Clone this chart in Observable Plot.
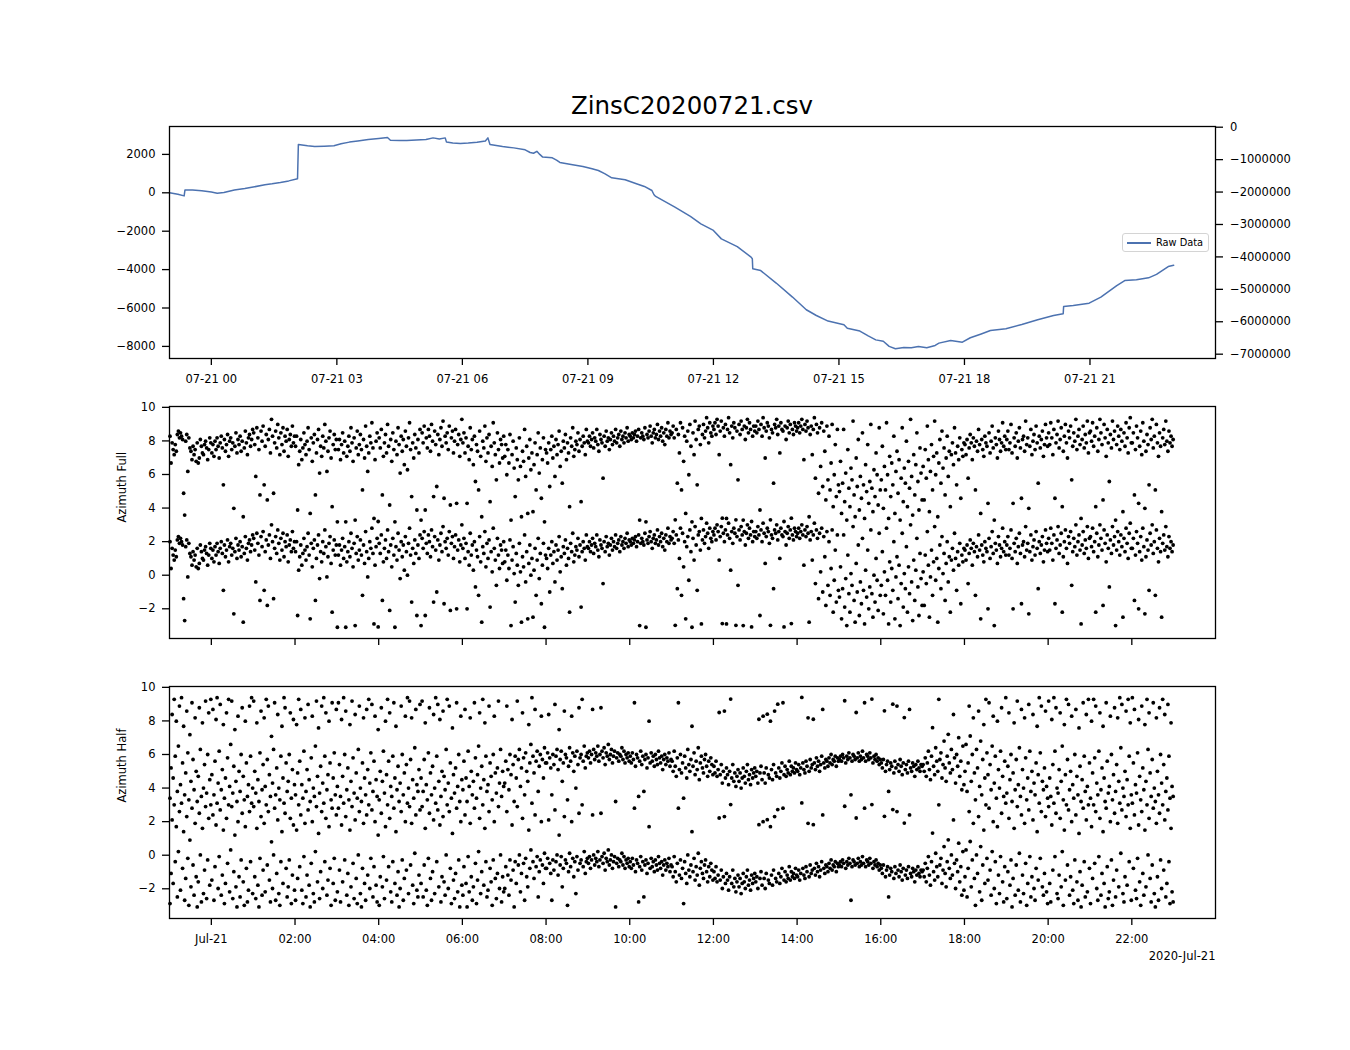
<!DOCTYPE html>
<html>
<head>
<meta charset="utf-8">
<script src="https://cdn.jsdelivr.net/npm/d3@7"></script>
<script src="https://cdn.jsdelivr.net/npm/@observablehq/plot@0.6"></script>
<style>
  body { margin: 0; background: #fff; }
  #fig { position: relative; width: 1350px; height: 1050px; background: #fff; font-family: "DejaVu Sans", sans-serif; color: #000; }
  .panel { position: absolute; left: 0; }
  #title { position: absolute; left: 169px; width: 1046px; top: 94px; text-align: center; font-size: 24.5px; line-height: 1; }
  #legend { position: absolute; left: 1122px; top: 233px; width: 87px; height: 19px; box-sizing: border-box;
            border: 1px solid #d4d4d4; border-radius: 3px; background: rgba(255,255,255,0.85); }
  #legend .sw { position: absolute; left: 4px; top: 8px; width: 24px; height: 1.6px; background: #4c72b0; }
  #legend .lb { position: absolute; left: 33px; top: 2px; font-size: 9.8px; line-height: 13px; white-space: nowrap; }
</style>
</head>
<body>
<div id="fig">
  <div id="title">ZinsC20200721.csv</div>
  <div id="p1" class="panel" style="top:116px"></div>
  <div id="p2" class="panel" style="top:396px"></div>
  <div id="p3" class="panel" style="top:676px"></div>
  <div id="legend"><div class="sw"></div><div class="lb">Raw Data</div></div>
</div>
<script>
// ---------------- DATA ----------------
// Raw data line: hours relative to 2020-07-21 00:00, and values (left axis)
const rawHours = [-1.0,-0.8,-0.65,-0.63,-0.45,-0.23,0.0,0.14,0.3,0.55,0.8,1.0,1.28,1.45,1.65,1.85,2.06,2.08,2.3,2.47,2.7,2.93,3.1,3.3,3.5,3.75,4.0,4.21,4.28,4.5,4.67,4.9,5.13,5.3,5.45,5.59,5.62,5.77,5.95,6.14,6.35,6.55,6.61,6.66,6.96,7.23,7.5,7.62,7.7,7.78,7.85,7.92,8.15,8.25,8.33,8.6,8.88,9.1,9.25,9.4,9.57,9.89,10.16,10.35,10.53,10.58,10.62,11.08,11.45,11.7,12.0,12.19,12.57,12.9,12.93,12.94,13.13,13.5,13.89,14.22,14.46,14.74,15.12,15.2,15.5,15.7,15.88,16.06,16.2,16.35,16.55,16.73,16.9,17.1,17.3,17.39,17.67,17.95,18.14,18.4,18.62,18.99,19.37,19.75,20.13,20.36,20.37,20.6,20.98,21.26,21.64,21.83,22.11,22.4,22.59,22.87,23.0];
const rawValues = [0,-80,-160,150,140,110,40,-20,20,150,220,300,420,470,540,620,730,2520,2450,2410,2430,2450,2550,2640,2700,2780,2830,2880,2740,2730,2725,2750,2780,2860,2800,2860,2640,2590,2570,2590,2630,2700,2860,2520,2410,2340,2240,2100,2060,2160,2000,1860,1820,1700,1580,1475,1370,1250,1160,1000,780,680,470,330,120,-100,-190,-750,-1230,-1615,-1960,-2400,-2800,-3350,-3430,-3960,-4050,-4700,-5430,-6090,-6390,-6680,-6870,-7050,-7200,-7450,-7660,-7730,-8000,-8120,-8060,-8070,-8000,-8070,-7950,-7830,-7690,-7780,-7550,-7350,-7170,-7080,-6860,-6610,-6390,-6300,-5920,-5870,-5750,-5430,-4830,-4570,-4530,-4430,-4250,-3840,-3770];

// Azimuth samples (radians, unwrapped reading), one row per hour from 23:00 (Jul 20) to 23:00 (Jul 21), 40 samples per hour
const azimuthFullByHour = [
[2.0,0.4,1.6,1.2,0.9,1.5,1.1,2.1,2.3,1.9,2.2,2.0,1.8,-1.4,-2.7,1.7,2.1,-0.1,1.9,1.3,1.1,0.6,1.4,0.9,1.2,0.5,1.6,0.4,0.7,1.8,1.4,1.0,0.9,1.5,1.7,1.3,0.6,1.2,1.9,1.6],
[1.0,1.5,0.8,1.7,1.2,1.9,1.4,0.7,1.6,2.0,1.3,-0.9,1.8,1.1,1.5,2.1,0.8,1.7,1.9,1.2,1.6,-2.3,1.4,2.2,1.0,1.8,1.5,2.0,1.1,1.7,-2.8,1.3,2.3,1.6,0.9,1.9,2.1,1.4,1.8,2.4],
[2.2,1.5,-0.4,2.5,1.9,1.2,-1.5,2.3,1.7,2.6,-0.9,1.4,2.1,-1.8,1.8,2.4,1.0,3.0,2.0,-1.4,1.6,2.3,1.3,2.7,1.9,0.9,2.2,1.5,2.5,1.1,2.0,1.7,2.4,0.8,1.8,2.1,1.4,2.6,1.6,2.0],
[1.4,2.0,-2.4,0.3,1.1,1.8,0.6,1.3,2.2,1.5,0.9,1.7,2.5,1.2,-2.6,1.9,0.5,1.6,2.1,-1.5,1.0,1.8,2.4,-0.2,1.4,0.8,2.0,1.3,2.7,1.7,-0.1,1.1,1.9,2.3,0.7,-2.2,1.5,2.1,1.2,1.8],
[-3.1,1.2,1.8,0.6,1.5,2.2,1.0,1.7,-3.1,0.8,1.4,2.0,1.1,2.5,1.6,0.5,1.9,-3.0,1.3,2.3,0.9,1.5,2.1,1.2,-1.2,1.8,0.7,2.6,1.4,-0.1,1.0,2.0,1.6,2.8,1.3,-2.9,0.6,1.7,2.2,3.2],
[1.9,1.3,2.4,-1.5,0.8,1.6,2.1,1.0,2.7,1.4,-2.1,1.8,0.5,2.2,1.2,-3.1,1.7,0.9,2.5,1.5,-0.2,2.0,1.1,1.8,0.3,2.3,1.4,0.0,1.9,2.8,1.2,-1.6,1.6,0.7,2.1,1.3,-2.4,1.8,1.0,2.4],
[-3.0,2.2,1.6,2.6,-2.4,1.9,1.3,2.4,2.0,1.1,2.7,1.7,-1.6,2.3,1.5,-1.0,2.1,0.9,1.8,2.5,1.4,2.9,-1.7,2.0,1.6,2.2,1.2,2.6,-2.1,1.9,2.3,1.0,1.7,2.4,-2.0,1.5,2.1,0.8,1.8,3.0],
[1.6,2.2,1.0,1.9,-2.0,1.4,0.6,2.5,1.2,1.8,0.3,2.0,-0.7,1.5,1.1,-1.2,2.3,0.8,-2.8,1.7,1.3,2.6,0.5,1.9,1.0,2.1,-1.9,1.4,0.2,2.8,1.6,0.9,-0.6,2.2,1.2,0.4,1.8,1.5,0.7,2.0],
[0.8,1.5,-0.3,1.2,0.4,2.1,-3.0,0.9,1.7,0.1,-1.6,1.3,0.6,-0.6,1.9,0.2,-2.8,1.1,0.5,2.4,-0.4,1.4,-2.6,0.7,1.8,0.0,1.0,-2.5,0.3,1.6,-1.2,0.9,2.2,-0.2,1.3,-1.7,0.6,1.9,-3.1,1.2],
[1.0,0.4,1.6,-1.0,1.2,2.0,0.7,1.4,-0.4,1.8,0.9,1.5,2.3,0.2,1.1,-0.8,1.7,1.3,2.1,0.6,1.6,1.0,-2.2,1.9,1.4,2.5,0.8,1.2,1.7,1.5,2.2,1.1,1.8,-1.9,1.4,2.0,1.6,0.9,2.4,1.7],
[1.6,2.0,1.4,1.8,2.2,1.3,1.9,1.7,2.4,1.5,1.1,2.1,1.8,1.6,-0.5,2.0,1.4,2.3,1.7,1.9,1.2,1.8,2.2,1.5,2.0,1.7,2.4,1.6,1.9,2.1,1.4,2.3,1.8,2.0,1.6,2.2,1.9,2.5,1.7,2.1],
[2.0,1.8,2.2,1.9,2.1,2.3,1.7,2.0,2.4,-3.0,1.9,2.2,2.0,1.8,2.5,-3.1,2.1,1.9,2.3,2.6,2.0,1.6,2.2,2.4,1.9,2.1,2.7,1.8,2.3,2.0,2.5,1.7,2.2,1.5,2.4,2.0,2.8,1.9,2.3,2.1],
[2.2,2.6,1.9,3.3,2.4,-0.8,2.1,1.0,2.8,-1.2,2.5,0.5,2.0,-2.6,1.7,2.3,-0.3,2.7,1.4,-3.1,2.2,0.9,2.9,1.8,-0.9,2.4,2.6,1.5,-2.9,2.1,2.7,1.9,2.3,3.1,2.5,1.6,2.8,2.2,2.0,2.6],
[2.4,2.8,2.1,3.0,2.6,0.9,2.3,2.9,3.4,2.5,2.0,2.7,-2.9,2.4,3.1,2.2,0.3,2.6,1.9,2.8,2.5,3.3,2.3,-0.6,2.7,2.1,2.9,2.4,-3.0,2.6,1.8,2.5,3.0,2.2,2.8,2.4,3.2,2.0,2.6,2.3],
[2.6,2.2,2.9,2.4,-2.4,2.7,2.0,3.1,2.5,0.7,2.3,2.8,2.6,1.9,3.3,2.4,2.2,-0.8,2.7,2.5,3.0,2.1,2.6,1.0,2.8,2.4,2.3,3.2,2.6,1.8,2.5,2.9,2.2,2.7,3.4,2.4,2.1,2.8,2.6,2.3],
[2.5,2.8,2.2,2.6,3.0,2.4,0.6,2.7,2.3,2.9,2.5,-2.8,2.1,2.6,0.9,2.4,3.1,-0.5,2.7,2.2,-1.4,2.5,0.2,2.8,-1.0,2.3,1.1,-1.8,2.6,-0.6,2.0,-1.2,0.4,2.7,-2.2,-0.3,1.5,-1.6,2.4,-0.9],
[-1.3,0.5,-2.6,-0.8,2.4,-1.9,-0.2,-3.0,1.2,-1.1,-2.2,0.1,-0.6,2.9,-1.5,-2.8,0.7,-1.0,1.8,-2.4,-0.4,-1.7,2.2,-0.9,-2.9,0.3,-1.3,1.5,-2.0,-0.7,2.7,-1.1,-2.5,0.0,-1.6,1.0,-0.3,-2.1,2.5,-1.2],
[-0.6,1.4,-2.3,0.2,-1.2,2.8,-0.3,-2.9,0.8,-1.6,0.4,-0.9,2.0,-2.6,-0.1,1.1,-1.4,0.6,-3.0,-0.5,2.5,-1.9,0.1,-0.8,1.7,-2.2,0.5,-1.1,3.0,-0.4,-2.7,0.9,-1.5,0.3,2.2,-0.7,-2.4,1.3,-0.2,-1.8],
[0.2,-1.8,1.2,-0.5,2.6,0.6,-2.5,-0.1,1.5,-1.2,0.8,2.9,-0.3,1.0,-2.8,0.4,1.8,-0.8,2.3,0.1,1.3,-1.5,0.7,2.0,-0.4,1.1,-2.2,0.9,1.6,0.3,2.5,1.0,-0.9,1.4,0.6,1.9,-1.7,1.2,0.8,1.6],
[1.5,0.9,1.8,-0.5,1.3,2.1,1.6,0.6,1.9,1.4,-1.2,1.7,1.1,2.4,1.5,-2.6,1.8,1.2,0.8,2.0,1.6,1.4,-2.0,2.2,1.0,1.7,2.6,1.3,-3.0,1.9,1.5,0.7,2.3,1.8,1.1,1.6,2.8,1.4,2.0,1.2],
[1.8,2.3,1.2,1.6,2.7,1.0,-2.0,1.9,1.4,2.2,0.7,1.7,2.5,1.3,-1.7,1.8,2.0,1.1,2.9,1.5,1.9,-2.3,1.4,2.4,0.9,1.7,2.1,1.2,2.6,1.6,-0.8,2.0,1.3,1.8,2.3,0.8,1.5,2.7,1.9,1.4],
[2.2,1.5,2.8,1.9,0.9,2.4,-1.7,1.6,2.1,2.9,1.3,1.8,2.5,-2.2,1.1,2.0,2.7,1.6,0.7,2.3,1.9,2.6,-0.6,1.4,2.2,1.7,3.0,1.2,2.0,2.4,1.5,-2.9,1.8,2.6,1.3,2.1,1.6,2.9,1.0,2.2],
[2.3,1.7,2.8,1.4,2.0,-2.2,2.5,1.1,1.8,3.0,2.2,1.5,-1.8,2.7,1.9,0.8,2.4,1.6,-0.7,2.1,1.3,2.9,1.8,2.3,-3.0,1.5,2.6,2.0,1.2,2.4,1.7,-2.5,2.2,1.4,2.8,1.9,1.0,2.5,3.1,1.6],
[1.6,2.2,-1.5,1.2,2.6,1.9,-2.0,1.4,2.3,0.9,2.8,1.7,-2.3,1.1,2.1,1.5,-0.9,2.5,1.8,3.0,1.3,2.0,-1.2,2.7,1.6,0.8,2.2,1.4,-2.5,1.9,2.4,1.5,2.9,1.7,1.1,2.3,1.6,2.0,1.4,1.8]
];
const azimuthHalfByHour = [
[3.4,5.2,2.1,4.6,3.0,5.9,1.7,3.8,6.5,2.6,4.2,3.1,5.5,1.4,3.6,4.9,2.3,6.1,3.3,0.9,4.4,2.8,5.7,3.9,1.9,5.0,3.2,4.7,2.5,6.3,3.5,1.6,4.0,5.4,2.9,3.7,6.0,2.2,4.5,3.0],
[4.8,2.4,3.6,5.6,1.8,3.1,4.3,6.2,2.7,3.9,5.1,1.5,3.4,4.6,2.2,5.8,3.0,4.1,6.6,2.9,3.7,5.3,1.2,4.4,3.2,2.0,5.0,3.8,6.0,2.5,4.7,3.3,1.7,5.5,3.5,4.2,2.6,5.9,3.1,4.0],
[2.9,5.0,3.7,1.6,4.5,3.2,6.1,2.3,3.9,5.4,1.9,4.1,3.0,5.7,2.6,4.8,3.5,0.8,4.3,6.3,2.8,3.6,5.2,2.1,4.0,3.3,5.9,1.4,4.6,3.1,2.5,5.5,3.8,4.4,6.0,2.2,3.4,5.1,1.8,4.2],
[3.6,1.5,4.9,3.0,5.6,2.4,4.2,3.4,6.2,1.9,3.8,5.1,2.7,4.5,3.2,5.8,2.0,4.0,3.5,6.5,2.9,4.7,1.3,3.7,5.3,2.6,4.3,3.1,5.9,2.2,3.9,4.8,1.7,5.5,3.3,2.8,4.6,6.1,3.6,2.4],
[4.1,2.8,5.4,3.5,1.8,4.7,3.1,6.0,2.3,3.9,5.2,3.3,1.5,4.4,2.9,5.8,3.7,2.1,4.9,3.4,6.3,2.6,4.0,3.2,5.5,1.9,4.6,3.6,2.4,5.1,3.0,4.3,6.1,2.7,3.8,5.6,2.0,4.5,3.5,1.2],
[3.3,5.0,2.5,4.4,6.2,3.7,1.7,4.8,3.0,5.6,2.2,4.1,3.5,5.9,2.8,4.6,1.4,3.9,5.3,3.2,4.3,2.6,6.0,3.6,4.9,2.0,5.4,3.1,4.0,2.9,5.7,1.9,4.5,3.4,6.4,2.4,4.2,3.8,5.1,2.7],
[4.6,2.9,3.8,5.7,1.6,4.2,3.3,6.1,2.5,4.9,3.6,5.3,2.1,4.0,3.1,5.9,2.7,4.4,1.8,3.5,5.0,2.3,4.7,3.9,6.3,3.0,4.3,2.6,5.5,3.4,1.3,4.8,3.7,5.2,2.8,4.1,6.0,3.2,2.0,4.5],
[3.9,5.6,2.4,4.6,3.2,6.2,4.1,1.9,5.0,3.6,4.4,2.8,5.8,3.4,4.8,6.5,2.2,4.0,5.3,3.0,4.5,1.6,5.9,3.8,4.2,2.6,5.5,4.7,3.3,6.0,2.0,4.9,3.7,5.2,2.9,4.3,6.3,3.5,5.0,4.1],
[4.3,5.6,2.6,5.1,3.9,6.0,4.8,1.8,5.4,3.2,5.9,4.6,2.9,5.7,6.3,4.1,5.2,2.2,5.8,3.6,6.1,5.0,4.4,1.5,5.5,6.6,3.1,5.9,4.9,2.4,5.6,6.2,3.8,5.3,6.0,2.0,5.7,4.6,6.4,5.5],
[5.5,6.1,2.1,5.8,5.2,3.6,6.0,5.4,2.7,5.9,6.3,5.1,1.2,5.7,6.2,4.4,5.5,2.3,6.0,5.8,3.3,5.3,6.4,5.6,2.0,6.1,5.0,5.9,4.0,6.2,5.4,2.5,5.8,6.0,3.0,5.6,6.5,5.2,5.9,6.1],
[5.8,6.2,5.5,6.0,2.4,6.3,5.7,6.1,5.9,6.5,5.6,6.0,2.5,6.2,5.8,6.4,5.4,6.1,5.9,6.6,5.7,6.0,6.3,5.5,5.9,6.2,3.2,5.8,6.1,5.6,6.0,5.9,6.4,5.7,6.2,5.5,6.0,5.8,6.1,5.6],
[5.9,5.5,6.1,5.7,2.8,5.3,6.0,5.8,3.5,5.6,6.2,5.4,5.9,3.8,5.7,6.0,5.2,5.8,1.7,5.5,6.1,5.6,5.9,5.3,6.0,5.7,5.4,6.2,5.8,5.5,5.9,5.1,5.7,6.0,5.4,5.8,5.6,6.1,5.3,5.7],
[5.6,5.0,6.2,5.3,4.7,5.8,2.8,5.1,6.0,4.9,5.5,3.4,5.9,5.2,4.6,6.3,5.4,5.0,5.7,1.4,5.3,6.1,4.8,5.6,5.1,6.4,4.5,5.5,5.9,5.2,4.9,5.7,6.0,5.3,4.7,5.6,5.0,5.8,5.4,4.8],
[5.3,4.9,5.6,4.7,5.1,8.5,4.8,5.4,4.3,5.0,2.3,4.6,5.2,4.8,4.2,5.0,9.3,4.6,5.4,4.4,4.9,4.1,4.7,5.1,4.4,4.9,4.0,4.6,5.2,4.7,4.3,5.0,5.4,4.5,4.8,4.2,5.1,4.6,4.9,5.2],
[4.7,5.0,4.3,8.1,4.9,5.3,4.5,2.0,4.9,4.3,5.2,8.4,4.8,4.6,1.7,5.1,4.5,5.4,2.3,4.9,4.7,9.0,5.2,4.6,5.0,5.5,2.8,4.8,5.3,4.7,5.1,4.9,5.6,4.8,5.3,5.0,5.2,4.9,5.5,5.1],
[5.0,5.4,4.8,5.2,9.4,5.5,5.1,4.9,5.6,5.3,1.9,5.0,5.7,5.2,5.4,8.1,5.5,5.1,5.8,5.3,5.6,5.0,5.4,5.9,2.4,5.5,5.2,5.7,5.6,5.3,5.8,5.5,6.0,5.4,5.7,5.6,5.9,5.3,5.8,5.6],
[5.7,5.9,5.6,6.0,5.8,9.2,5.5,5.9,5.7,6.1,5.8,3.6,5.6,6.0,5.9,5.7,8.5,5.8,6.1,5.6,5.9,5.7,6.2,5.8,2.8,5.6,6.0,5.9,5.7,6.1,5.8,9.3,5.5,5.9,5.7,6.0,5.6,5.8,5.4,5.7],
[5.5,5.2,5.7,8.6,5.0,5.4,5.6,3.8,5.1,5.5,5.3,9.0,4.9,5.6,5.2,2.6,5.4,5.0,5.7,5.3,4.8,5.5,8.2,5.1,5.4,4.9,5.6,2.4,5.2,5.0,5.5,5.3,4.7,5.4,5.1,5.6,5.2,5.0,5.4,5.3],
[5.4,5.0,5.8,4.7,5.5,6.2,5.1,4.5,5.9,7.6,5.3,4.8,6.4,5.6,5.0,3.0,5.7,6.1,4.6,5.4,6.8,5.2,4.4,5.9,7.2,5.5,4.9,6.3,5.1,2.1,5.8,4.3,6.0,5.3,7.0,4.7,5.6,3.9,6.5,4.2],
[5.0,6.6,3.8,5.5,2.6,7.1,4.4,6.0,1.9,4.9,3.3,6.3,5.2,2.3,4.1,6.8,3.6,5.7,1.5,4.6,3.0,6.1,4.8,2.8,5.4,3.9,6.5,2.0,4.3,5.9,3.4,1.7,5.1,4.0,6.2,2.5,4.7,3.5,5.6,3.1],
[3.7,5.3,2.2,4.5,6.0,3.2,4.9,1.6,3.9,5.7,2.9,4.2,6.4,3.5,2.4,5.1,4.0,1.9,5.8,3.3,4.6,2.7,6.2,3.8,5.0,2.1,4.3,3.6,5.5,1.4,4.8,3.1,6.1,2.6,4.4,3.9,5.2,2.3,4.1,3.4],
[2.9,4.6,3.5,1.8,5.4,3.1,6.2,2.5,4.0,3.7,5.1,2.2,4.4,6.5,3.3,1.5,4.8,3.0,5.7,2.7,3.9,5.0,2.0,4.2,3.4,6.0,2.4,4.7,3.6,1.3,5.3,3.2,4.5,2.8,5.9,3.8,2.1,4.1,3.0,5.5],
[3.4,1.7,4.9,3.0,5.8,2.6,4.3,3.6,6.2,2.2,3.9,5.2,1.4,4.6,3.2,2.8,5.6,3.7,4.1,2.0,6.0,3.3,4.8,2.5,3.8,5.4,1.9,4.4,3.1,6.4,2.7,4.0,3.5,5.0,2.3,4.5,3.0,5.9,1.6,3.6],
[3.1,5.5,2.4,4.2,3.7,6.1,1.8,4.7,3.3,2.6,5.2,3.9,1.5,4.4,3.0,6.3,2.2,4.9,3.5,5.7,2.8,4.0,3.2,1.9,5.0,3.6,2.5,6.0,4.3,3.0,5.4,2.1,3.8,4.6,2.7,5.9,3.4,1.6,4.1,3.5]
];

// Axis ticks and labels
const leftTicks = [-8000, -6000, -4000, -2000, 0, 2000];
const rightTicks = [0, -1000000, -2000000, -3000000, -4000000, -5000000, -6000000, -7000000];
const topTickHours = [0, 3, 6, 9, 12, 15, 18, 21];
const topTickLabels = ["07-21 00", "07-21 03", "07-21 06", "07-21 09", "07-21 12", "07-21 15", "07-21 18", "07-21 21"];
const bottomTickHours = [0, 2, 4, 6, 8, 10, 12, 14, 16, 18, 20, 22];
const bottomTickLabels = ["Jul-21", "02:00", "04:00", "06:00", "08:00", "10:00", "12:00", "14:00", "16:00", "18:00", "20:00", "22:00"];
const azimuthTicks = [-2, 0, 2, 4, 6, 8, 10];

// ---------------- BUILD ----------------
const base = Date.UTC(2020, 6, 21, 0, 0, 0);
const H = 3600e3;
const atHour = h => new Date(base + h * H);
const xDomain = [atHour(-1), atHour(24)];
const leftDomain = [-8630, 3453];
const rightDomain = [-7133000, 21600];
const aziDomain = [-3.77, 10.05];
const TWO_PI = 2 * Math.PI;

const fmtMinus = d => d < 0 ? "\u2212" + Math.abs(d) : String(d);
const rightToLeft = r => leftDomain[0] + (r - rightDomain[0]) * (leftDomain[1] - leftDomain[0]) / (rightDomain[1] - rightDomain[0]);

const rawData = rawHours.map((h, i) => ({t: atHour(h), v: rawValues[i]}));

const topTickMap = new Map(topTickHours.map((h, i) => [+atHour(h), topTickLabels[i]]));
const botTickMap = new Map(bottomTickHours.map((h, i) => [+atHour(h), bottomTickLabels[i]]));
const rightPos = rightTicks.map(rightToLeft);
const rightLabelMap = new Map(rightPos.map((p, i) => [p, fmtMinus(rightTicks[i])]));

// each sample: wrap to [-pi, pi) and show both a and a + 2pi
function buildPoints(rows) {
  const pts = [];
  const perHour = 40;
  rows.forEach((row, hr) => {
    row.forEach((v, j) => {
      const t = atHour(-1 + hr + (j + 0.5) / perHour);
      const a = v - TWO_PI * Math.round(v / TWO_PI);
      pts.push({t, y: a});
      pts.push({t, y: a + TWO_PI});
    });
  });
  return pts;
}
const fullPts = buildPoints(azimuthFullByHour);
const halfPts = buildPoints(azimuthHalfByHour);

const common = {
  width: 1350,
  marginLeft: 169,
  marginRight: 135,
  marginTop: 10,
  style: {fontFamily: "'DejaVu Sans', sans-serif", fontSize: "11.5px", color: "#000", background: "transparent", overflow: "visible"}
};
const SW = 1.3;

const p1 = Plot.plot({
  ...common,
  height: 282,
  marginBottom: 40,
  x: {type: "utc", domain: xDomain},
  y: {domain: leftDomain},
  marks: [
    Plot.line(rawData, {x: "t", y: "v", stroke: "#4c72b0", strokeWidth: 1.5}),
    Plot.frame({stroke: "#000", strokeWidth: 1.3}),
    Plot.axisX(topTickHours.map(atHour), {tickSize: 7, tickPadding: 9.5, strokeWidth: SW, tickFormat: d => topTickMap.get(+d), label: null}),
    Plot.axisY(leftTicks, {tickSize: 7, tickPadding: 7, strokeWidth: SW, tickFormat: fmtMinus, label: null}),
    Plot.axisY(rightPos, {anchor: "right", tickSize: 7, tickPadding: 7.5, strokeWidth: SW, tickFormat: d => rightLabelMap.get(d), label: null})
  ]
});
document.getElementById("p1").appendChild(p1);

function aziPanel(points, label, withLabels) {
  const marks = [
    Plot.dot(points, {x: "t", y: "y", r: 1.9, fill: "#000", stroke: "none"}),
    Plot.frame({stroke: "#000", strokeWidth: 1.3}),
    Plot.axisY(azimuthTicks, {tickSize: 7, tickPadding: 7, strokeWidth: SW, tickFormat: fmtMinus, label: null}),
    Plot.text([label], {text: d => d, frameAnchor: "left", dx: -47, rotate: -90, fontSize: 11.5})
  ];
  if (withLabels) {
    marks.push(Plot.axisX(bottomTickHours.map(atHour), {tickSize: 7, tickPadding: 9, strokeWidth: SW, tickFormat: d => botTickMap.get(+d), label: null}));
    marks.push(Plot.text(["2020-Jul-21"], {text: d => d, frameAnchor: "bottom-right", dy: 41, textAnchor: "end", fontSize: 11.5}));
  } else {
    marks.push(Plot.axisX(bottomTickHours.map(atHour), {tickSize: 7, strokeWidth: SW, tickFormat: () => "", label: null}));
  }
  return Plot.plot({
    ...common,
    height: withLabels ? 302 : 262,
    marginBottom: withLabels ? 60 : 20,
    x: {type: "utc", domain: xDomain},
    y: {domain: aziDomain},
    marks
  });
}
document.getElementById("p2").appendChild(aziPanel(fullPts, "Azimuth Full", false));
document.getElementById("p3").appendChild(aziPanel(halfPts, "Azimuth Half", true));
</script>
</body>
</html>
